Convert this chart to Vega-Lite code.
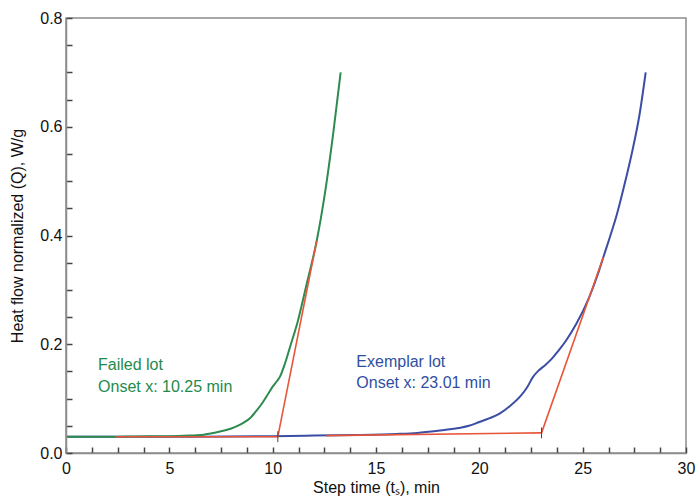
{
  "$schema": "https://vega.github.io/schema/vega-lite/v6.json",
  "width": 620,
  "height": 435,
  "autosize": {"type": "none"},
  "padding": {"left": 66, "top": 18, "right": 14, "bottom": 46},
  "background": "white",
  "config": {
    "view": {"stroke": "#8c8c8c", "strokeWidth": 1.5},
    "font": "Liberation Sans"
  },
  "datasets": {
    "curves": [
      {"lot": "Exemplar", "t": 0, "q": 0.03},
      {"lot": "Exemplar", "t": 5, "q": 0.03},
      {"lot": "Exemplar", "t": 10, "q": 0.031},
      {"lot": "Exemplar", "t": 12, "q": 0.032},
      {"lot": "Exemplar", "t": 14, "q": 0.033},
      {"lot": "Exemplar", "t": 16, "q": 0.035},
      {"lot": "Exemplar", "t": 17, "q": 0.037},
      {"lot": "Exemplar", "t": 18, "q": 0.041},
      {"lot": "Exemplar", "t": 19, "q": 0.046},
      {"lot": "Exemplar", "t": 19.5, "q": 0.05},
      {"lot": "Exemplar", "t": 20, "q": 0.057},
      {"lot": "Exemplar", "t": 20.5, "q": 0.064},
      {"lot": "Exemplar", "t": 21, "q": 0.073},
      {"lot": "Exemplar", "t": 21.5, "q": 0.087},
      {"lot": "Exemplar", "t": 22, "q": 0.105},
      {"lot": "Exemplar", "t": 22.3, "q": 0.12},
      {"lot": "Exemplar", "t": 22.6, "q": 0.14},
      {"lot": "Exemplar", "t": 22.85, "q": 0.151},
      {"lot": "Exemplar", "t": 23.2, "q": 0.162},
      {"lot": "Exemplar", "t": 23.5, "q": 0.173},
      {"lot": "Exemplar", "t": 23.8, "q": 0.187},
      {"lot": "Exemplar", "t": 24.2, "q": 0.207},
      {"lot": "Exemplar", "t": 24.7, "q": 0.238},
      {"lot": "Exemplar", "t": 25.3, "q": 0.285},
      {"lot": "Exemplar", "t": 25.7, "q": 0.325},
      {"lot": "Exemplar", "t": 26.0, "q": 0.36},
      {"lot": "Exemplar", "t": 26.3, "q": 0.395},
      {"lot": "Exemplar", "t": 26.65, "q": 0.438},
      {"lot": "Exemplar", "t": 27.0, "q": 0.49},
      {"lot": "Exemplar", "t": 27.4, "q": 0.555},
      {"lot": "Exemplar", "t": 27.75, "q": 0.622},
      {"lot": "Exemplar", "t": 28.05, "q": 0.7},
      {"lot": "Failed", "t": 0, "q": 0.03},
      {"lot": "Failed", "t": 2, "q": 0.03},
      {"lot": "Failed", "t": 4, "q": 0.031},
      {"lot": "Failed", "t": 5, "q": 0.031},
      {"lot": "Failed", "t": 6, "q": 0.032},
      {"lot": "Failed", "t": 6.5, "q": 0.033},
      {"lot": "Failed", "t": 7, "q": 0.036},
      {"lot": "Failed", "t": 7.5, "q": 0.04},
      {"lot": "Failed", "t": 8, "q": 0.045},
      {"lot": "Failed", "t": 8.3, "q": 0.05},
      {"lot": "Failed", "t": 8.6, "q": 0.056},
      {"lot": "Failed", "t": 8.9, "q": 0.064},
      {"lot": "Failed", "t": 9.2, "q": 0.077},
      {"lot": "Failed", "t": 9.5, "q": 0.092},
      {"lot": "Failed", "t": 9.8, "q": 0.11},
      {"lot": "Failed", "t": 10.0, "q": 0.122},
      {"lot": "Failed", "t": 10.2, "q": 0.132},
      {"lot": "Failed", "t": 10.35, "q": 0.14},
      {"lot": "Failed", "t": 10.6, "q": 0.165},
      {"lot": "Failed", "t": 10.84, "q": 0.195},
      {"lot": "Failed", "t": 11.2, "q": 0.24},
      {"lot": "Failed", "t": 11.64, "q": 0.31},
      {"lot": "Failed", "t": 12.13, "q": 0.39},
      {"lot": "Failed", "t": 12.53, "q": 0.478},
      {"lot": "Failed", "t": 12.93, "q": 0.588},
      {"lot": "Failed", "t": 13.29, "q": 0.7}
    ],
    "fits": [
      {"seg": "fail_base", "t": 2.4, "q": 0.03},
      {"seg": "fail_base", "t": 10.25, "q": 0.03},
      {"seg": "fail_tan", "t": 10.25, "q": 0.03},
      {"seg": "fail_tan", "t": 12.13, "q": 0.39},
      {"seg": "ex_base", "t": 12.6, "q": 0.032},
      {"seg": "ex_base", "t": 23.01, "q": 0.037},
      {"seg": "ex_tan", "t": 23.01, "q": 0.037},
      {"seg": "ex_tan", "t": 26.0, "q": 0.36}
    ],
    "onsets": [
      {"t": 10.25, "lo": 0.02, "hi": 0.04},
      {"t": 23.01, "lo": 0.027, "hi": 0.047}
    ],
    "labels": [
      {"lot": "Failed", "t": 1.55, "q": 0.162, "text": "Failed lot"},
      {"lot": "Failed", "t": 1.55, "q": 0.122, "text": "Onset x: 10.25 min"},
      {"lot": "Exemplar", "t": 14.05, "q": 0.168, "text": "Exemplar lot"},
      {"lot": "Exemplar", "t": 14.05, "q": 0.128, "text": "Onset x: 23.01 min"}
    ]
  },
  "encoding": {
    "x": {
      "field": "t",
      "type": "quantitative",
      "scale": {"domain": [0, 30], "nice": false},
      "axis": {
        "title": "Step time (tₛ), min",
        "values": [0, 1.25, 2.5, 3.75, 5, 6.25, 7.5, 8.75, 10, 11.25, 12.5, 13.75, 15, 16.25, 17.5, 18.75, 20, 21.25, 22.5, 23.75, 25, 26.25, 27.5, 28.75, 30],
        "labelExpr": "datum.value % 5 == 0 ? format(datum.value, 'd') : ''",
        "grid": false,
        "zindex": 1,
        "domainColor": "#8c8c8c",
        "domainWidth": 1.5,
        "ticks": true,
        "tickSize": -6,
        "tickColor": "#444444",
        "tickWidth": 1.5,
        "tickOpacity": 1,
        "labelFlush": false,
        "labelOverlap": false,
        "labelFontSize": 16,
        "labelColor": "#111111",
        "labelFont": "Liberation Sans",
        "labelPadding": 13,
        "titleFont": "Liberation Sans",
        "titleFontSize": 16,
        "titleFontWeight": "normal",
        "titleColor": "#111111",
        "titlePadding": 3
      }
    },
    "y": {
      "field": "q",
      "type": "quantitative",
      "scale": {"domain": [0, 0.8], "nice": false},
      "axis": {
        "title": "Heat flow normalized (Q), W/g",
        "values": [0, 0.05, 0.1, 0.15, 0.2, 0.25, 0.3, 0.35, 0.4, 0.45, 0.5, 0.55, 0.6, 0.65, 0.7, 0.75, 0.8],
        "labelExpr": "abs(datum.value * 5 - round(datum.value * 5)) < 0.000001 ? format(datum.value, '.1f') : ''",
        "grid": false,
        "zindex": 1,
        "domainColor": "#8c8c8c",
        "domainWidth": 1.5,
        "ticks": true,
        "tickSize": -6,
        "tickColor": "#444444",
        "tickWidth": 1.5,
        "tickOpacity": 1,
        "labelFlush": false,
        "labelOverlap": false,
        "labelFontSize": 16,
        "labelColor": "#111111",
        "labelFont": "Liberation Sans",
        "labelPadding": 10,
        "titleFont": "Liberation Sans",
        "titleFontSize": 16,
        "titleFontWeight": "normal",
        "titleColor": "#111111",
        "titlePadding": 14
      }
    }
  },
  "layer": [
    {
      "data": {"name": "curves"},
      "transform": [{"filter": "datum.lot == 'Exemplar'"}],
      "mark": {"type": "line", "color": "#3b4ea3", "strokeWidth": 2, "interpolate": "monotone"},
      "encoding": {"order": {"field": "t", "type": "quantitative"}}
    },
    {
      "data": {"name": "curves"},
      "transform": [{"filter": "datum.lot == 'Failed'"}],
      "mark": {"type": "line", "color": "#2e8b50", "strokeWidth": 2, "interpolate": "monotone"},
      "encoding": {"order": {"field": "t", "type": "quantitative"}}
    },
    {
      "data": {"name": "fits"},
      "mark": {"type": "line", "color": "#e8563a", "strokeWidth": 1.6},
      "encoding": {"detail": {"field": "seg"}}
    },
    {
      "data": {"name": "onsets"},
      "mark": {"type": "rule", "color": "#444444", "strokeWidth": 1},
      "encoding": {
        "y": {"field": "lo", "type": "quantitative"},
        "y2": {"field": "hi"}
      }
    },
    {
      "data": {"name": "labels"},
      "mark": {"type": "text", "align": "left", "baseline": "middle", "fontSize": 16, "font": "Liberation Sans"},
      "encoding": {
        "text": {"field": "text"},
        "color": {
          "field": "lot",
          "type": "nominal",
          "scale": {"domain": ["Failed", "Exemplar"], "range": ["#1f8a4c", "#2f4fa3"]},
          "legend": null
        }
      }
    }
  ]
}
